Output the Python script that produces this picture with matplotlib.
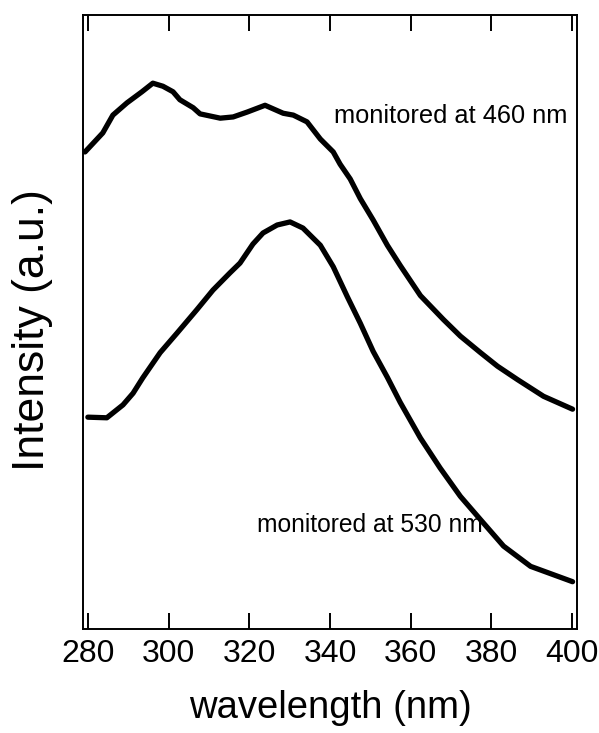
import matplotlib
matplotlib.use("Agg")
import matplotlib.pyplot as plt

plt.rcParams['font.family'] = ['Liberation Sans', 'DejaVu Sans']

# Excitation spectra (arbitrary intensity units)
wl_460 = [279.3, 283.7, 286.2, 289.7, 293.4, 296.1, 298.6, 301.1, 302.8, 306.1,
          307.8, 312.8, 316.0, 319.5, 322.7, 323.9, 328.4, 330.9, 334.3, 337.6,
          340.8, 342.5, 345.0, 347.5, 350.7, 354.2, 357.4, 362.4, 368.1, 372.3,
          377.3, 381.5, 386.5, 392.9, 400.1]
int_460 = [0.777, 0.808, 0.837, 0.857, 0.875, 0.889, 0.884, 0.875, 0.862, 0.849,
           0.839, 0.832, 0.834, 0.842, 0.850, 0.853, 0.840, 0.837, 0.826, 0.798,
           0.777, 0.757, 0.733, 0.701, 0.666, 0.625, 0.592, 0.543, 0.504, 0.477,
           0.450, 0.428, 0.406, 0.379, 0.358]

wl_530 = [280.0, 284.7, 288.7, 291.2, 293.6, 297.9, 302.1, 307.0, 311.0, 315.2,
          317.7, 320.9, 323.4, 326.9, 330.1, 333.3, 337.6, 340.8, 344.3, 347.5,
          350.7, 354.2, 357.4, 362.4, 367.3, 372.3, 377.3, 383.0, 389.7, 400.1]
int_530 = [0.345, 0.344, 0.365, 0.384, 0.409, 0.450, 0.482, 0.520, 0.552, 0.580,
           0.596, 0.627, 0.645, 0.658, 0.663, 0.653, 0.625, 0.590, 0.541, 0.498,
           0.452, 0.410, 0.369, 0.311, 0.262, 0.216, 0.178, 0.135, 0.102, 0.077]

xticks = [280, 300, 320, 340, 360, 380, 400]

fig = plt.figure(figsize=(5.99, 7.33), dpi=100)
ax = fig.add_axes([0.1386, 0.1419, 0.8247, 0.8376])

for wl, inten in ((wl_460, int_460), (wl_530, int_530)):
    ax.plot(wl, inten, color='black', lw=3.8, solid_capstyle='round',
            solid_joinstyle='round')

ax.set_xlim(278.8, 401.2)
ax.set_ylim(0, 1)
ax.set_xticks(xticks)
ax.set_yticks([])
ax.tick_params(axis='x', direction='in', length=11.5, width=1.4, top=True,
               labelsize=23, pad=7)
for s in ax.spines.values():
    s.set_linewidth(1.4)

ax.set_xlabel('wavelength (nm)', fontsize=27.5, labelpad=15)
ax.set_ylabel('Intensity (a.u.)', fontsize=32)
ax.yaxis.set_label_coords(-0.060, 0.487)

ax.text(369.8, 0.836, 'monitored at 460 nm', fontsize=18.3, ha='center', va='center')
ax.text(349.8, 0.170, 'monitored at 530 nm', fontsize=17.7, ha='center', va='center')

fig.savefig('out.png', dpi=100)
